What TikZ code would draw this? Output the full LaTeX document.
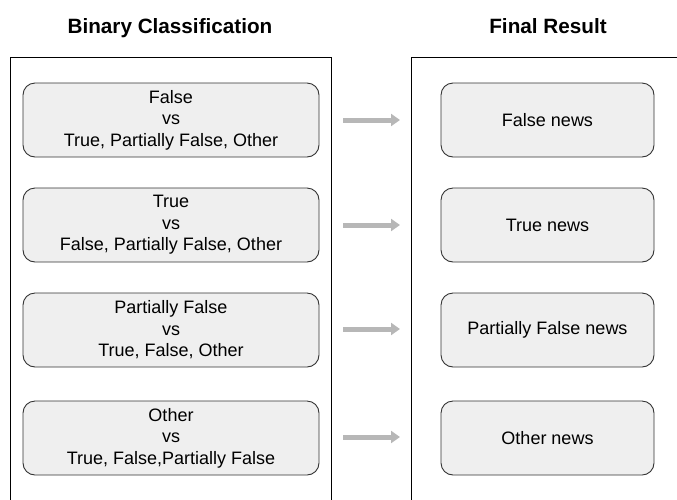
\documentclass[tikz,border=0pt]{standalone}
\usepackage{fontspec}
\setmainfont{Liberation Sans}
\usetikzlibrary{arrows.meta}
\definecolor{boxfill}{HTML}{EFEFEF}
\definecolor{boxdraw}{HTML}{333333}
\definecolor{arrowgray}{HTML}{B7B7B7}
\tikzset{
  x=1pt,y=-1pt,
  cbox/.style={draw=boxdraw, line width=0.9pt, fill=boxfill, rounded corners=12pt,
    minimum width=296pt, minimum height=74pt, align=center, font=\fontsize{18}{21.5}\selectfont, inner sep=0pt},
  rbox/.style={cbox, minimum width=213pt},
  panel/.style={draw=black, line width=0.8pt},
  conn/.style={draw=arrowgray, line width=5pt, -{Triangle[length=9pt,width=12pt]}},
  title/.style={font=\fontsize{20.7}{24}\selectfont\bfseries, anchor=base}
}
\begin{document}
\begin{tikzpicture}
\useasboundingbox (0,0) rectangle (677,499);
\node[title] (t1) at (170,33) {Binary Classification};
\node[title] (t2) at (548,33) {Final Result};
\coordinate (p1a) at (10,502);
\coordinate (p1b) at (10,57);
\coordinate (p1c) at (331,57);
\coordinate (p1d) at (331,502);
\draw[panel] (p1a) -- (p1b) -- (p1c) -- (p1d);
\coordinate (p2a) at (411,502);
\coordinate (p2b) at (411,57);
\coordinate (p2c) at (680,57);
\draw[panel] (p2a) -- (p2b) -- (p2c);

\node[cbox] (l1) at (171,120) {False\\vs\\True, Partially False, Other};
\node[cbox] (l2) at (171,225) {True\\vs\\False, Partially False, Other};
\node[cbox] (l3) at (171,330) {Partially False\\vs\\True, False, Other};
\node[cbox] (l4) at (171,438) {Other\\vs\\True, False,Partially False};

\node[rbox] (r1) at (547.5,120) {False news};
\node[rbox] (r2) at (547.5,225) {True news};
\node[rbox] (r3) at (547.5,330) {Partially False news};
\node[rbox] (r4) at (547.5,438) {Other news};

\foreach \i/\yy in {1/120,2/225,3/329,4/437}{
  \coordinate (a\i) at (343,\yy);
  \coordinate (b\i) at (400,\yy);
  \draw[conn] (a\i) -- (b\i);
}
\end{tikzpicture}
\end{document}
